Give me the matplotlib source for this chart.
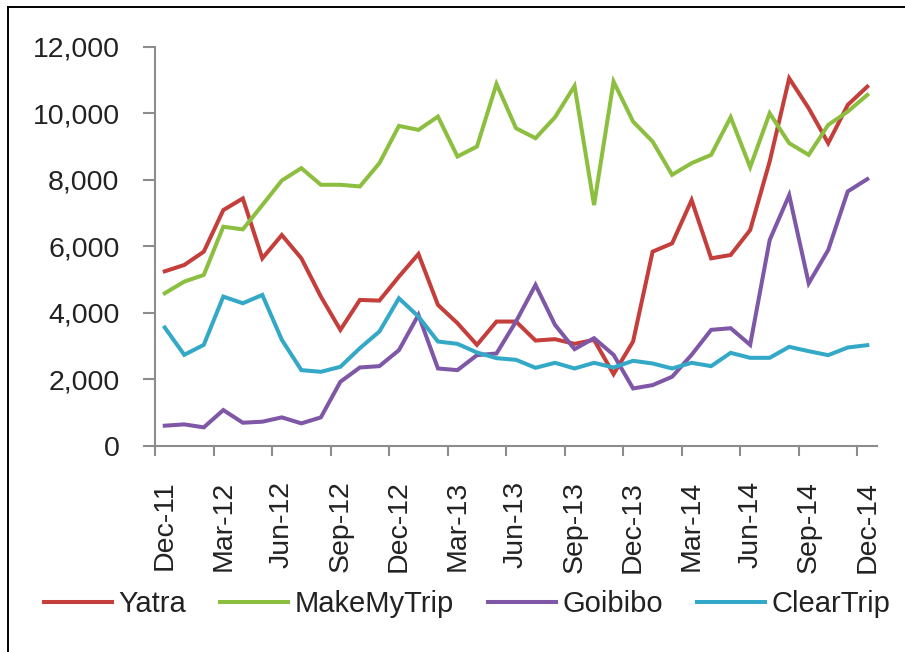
import matplotlib
matplotlib.use("Agg")
import matplotlib.pyplot as plt
from matplotlib.lines import Line2D
from matplotlib.ticker import FuncFormatter

months = ["Dec-11", "Jan-12", "Feb-12", "Mar-12", "Apr-12", "May-12", "Jun-12", "Jul-12", "Aug-12",
          "Sep-12", "Oct-12", "Nov-12", "Dec-12", "Jan-13", "Feb-13", "Mar-13", "Apr-13", "May-13",
          "Jun-13", "Jul-13", "Aug-13", "Sep-13", "Oct-13", "Nov-13", "Dec-13", "Jan-14", "Feb-14",
          "Mar-14", "Apr-14", "May-14", "Jun-14", "Jul-14", "Aug-14", "Sep-14", "Oct-14", "Nov-14",
          "Dec-14"]

yatra = [5250, 5440, 5840, 7090, 7440, 5640, 6340, 5640, 4490, 3490, 4390, 4370, 5090, 5770,
         4240, 3690, 3040, 3740, 3740, 3170, 3210, 3070, 3190, 2160, 3140, 5840, 6090, 7390,
         5640, 5740, 6490, 8550, 11050, 10150, 9100, 10250, 10800]
makemytrip = [4590, 4940, 5140, 6590, 6510, 7240, 7980, 8350, 7850, 7850, 7800, 8500, 9620,
              9500, 9900, 8700, 9000, 10880, 9550, 9250, 9880, 10820, 7240, 10950, 9750, 9150,
              8150, 8500, 8750, 9880, 8380, 10000, 9100, 8750, 9650, 10050, 10550]
goibibo = [610, 650, 560, 1080, 700, 730, 860, 680, 860, 1930, 2360, 2400, 2880, 3940, 2330,
           2280, 2730, 2780, 3740, 4840, 3640, 2910, 3240, 2740, 1730, 1830, 2080, 2740, 3490,
           3540, 3040, 6190, 7540, 4890, 5890, 7650, 8020]
cleartrip = [3560, 2740, 3040, 4490, 4290, 4540, 3190, 2280, 2230, 2380, 2940, 3440, 4440, 3890,
             3140, 3070, 2810, 2640, 2590, 2350, 2500, 2330, 2500, 2360, 2560, 2480, 2330, 2500,
             2400, 2800, 2650, 2650, 2980, 2850, 2730, 2960, 3030]

series_names = ["Yatra", "MakeMyTrip", "Goibibo", "ClearTrip"]
series_values = [yatra, makemytrip, goibibo, cleartrip]
colors = ["#C43E3C", "#8CBF3F", "#7E57A6", "#33A9C7"]
yticks = [0, 2000, 4000, 6000, 8000, 10000, 12000]

plt.rcParams['font.family'] = ['Liberation Sans', 'DejaVu Sans']

fig = plt.figure(figsize=(9.05, 6.52), dpi=100)
ax = fig.add_axes([155 / 905, 1 - 446 / 652, (877 - 155) / 905, (446 - 46.7) / 652])

x = list(range(len(months)))
for name, vals, c in zip(series_names, series_values, colors):
    ax.plot(x, vals, color=c, lw=2.9, label=name, solid_joinstyle='miter')

ax.set_xlim(-0.5, len(months) - 0.5)
ax.set_ylim(0, 12000)
ax.set_yticks(yticks)
ax.yaxis.set_major_formatter(FuncFormatter(lambda v, p: f"{int(v):,}"))

label_idx = list(range(0, len(months), 3))
ax.set_xticks(label_idx)
ax.set_xticklabels([months[i] for i in label_idx], rotation=90, va='top', ha='center')
ax.set_xticks([i - 0.5 for i in label_idx], minor=True)

axis_col = "#8C8C8C"
for s in ["top", "right"]:
    ax.spines[s].set_visible(False)
for s in ["left", "bottom"]:
    ax.spines[s].set_color(axis_col)
    ax.spines[s].set_linewidth(1.5)

ax.tick_params(axis='x', which='major', length=0, pad=25, labelsize=20.5, labelcolor="#222222")
ax.tick_params(axis='x', which='minor', length=7.5, width=1.5, color=axis_col, direction='out')
ax.tick_params(axis='y', which='major', length=8.5, width=1.5, color=axis_col, direction='out',
               pad=17, labelsize=20.5, labelcolor="#222222")

leg = fig.legend(loc='center', bbox_to_anchor=(0.516, 1 - 604 / 652), ncol=4, frameon=False,
                 fontsize=21, handlelength=2.35, handletextpad=0.22, columnspacing=1.15)
for t in leg.get_texts():
    t.set_color("#222222")

# outer frame (top and left edges visible)
fig.add_artist(Line2D([8 / 905, 8 / 905], [0, 1 - 7 / 652], transform=fig.transFigure,
                      color='black', lw=1.4))
fig.add_artist(Line2D([8 / 905, 1], [1 - 7 / 652, 1 - 7 / 652], transform=fig.transFigure,
                      color='black', lw=1.4))

fig.savefig("out.png", dpi=100)
